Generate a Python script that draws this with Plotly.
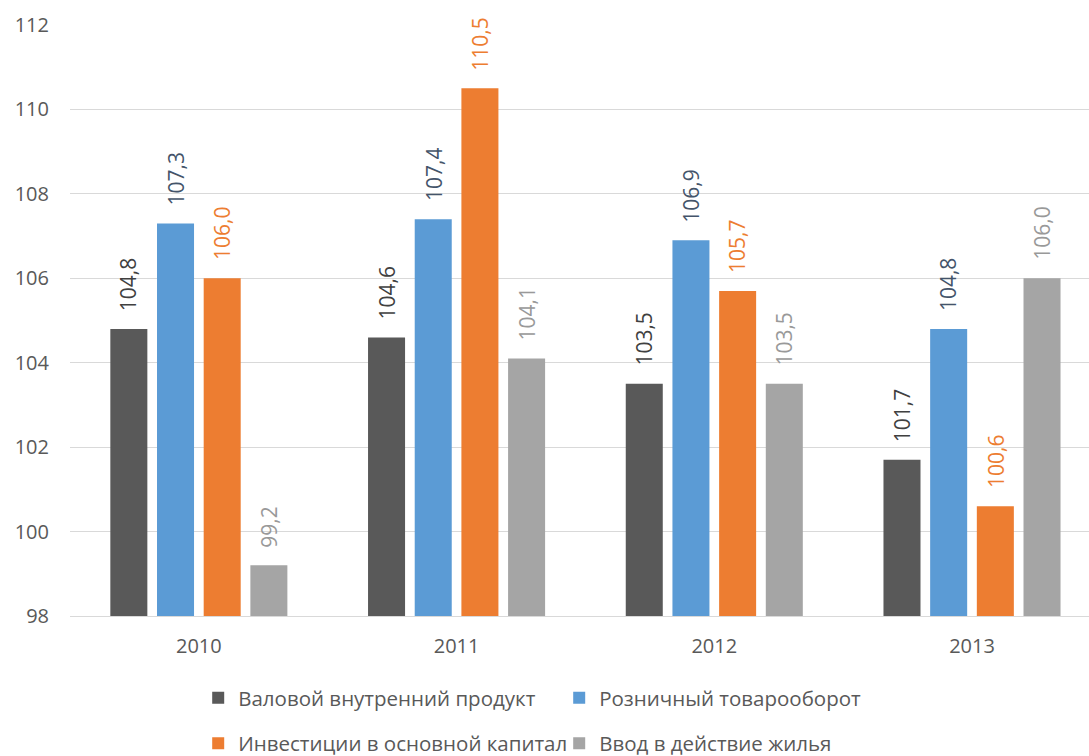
import plotly.graph_objects as go

years = ["2010", "2011", "2012", "2013"]
series_names = [
    "Валовой внутренний продукт",
    "Розничный товарооборот",
    "Инвестиции в основной капитал",
    "Ввод в действие жилья",
]
gdp = [104.8, 104.6, 103.5, 101.7]
retail = [107.3, 107.4, 106.9, 104.8]
investment = [106.0, 110.5, 105.7, 100.6]
housing = [99.2, 104.1, 103.5, 106.0]

bar_colors = ["#595959", "#5B9BD5", "#ED7D31", "#A5A5A5"]
label_colors = ["#404040", "#44546A", "#ED7D31", "#999999"]
legend_ids = ["legend", "legend", "legend2", "legend2"]

FONT = "Open Sans"
BARGAP = 0.2755
GROUPGAP = 0.207

fig = go.Figure()
all_series = [gdp, retail, investment, housing]
for i, (name, vals) in enumerate(zip(series_names, all_series)):
    fig.add_trace(go.Bar(
        x=years, y=vals, name=name,
        marker=dict(color=bar_colors[i], line=dict(width=0)),
        legend=legend_ids[i],
        hoverinfo="skip",
    ))

# value labels above each bar, rotated to read upwards
n = len(all_series)
slot = (1 - BARGAP) / n
for i, vals in enumerate(all_series):
    for j, v in enumerate(vals):
        fig.add_annotation(
            x=j + (i - (n - 1) / 2) * slot, y=v,
            xref="x", yref="y",
            text=f"{v:.1f}".replace(".", ","),
            textangle=-90, showarrow=False,
            xanchor="center", yanchor="bottom", yshift=16,
            font=dict(family=FONT, size=21, color=label_colors[i]),
        )

legend_common = dict(
    orientation="h", xref="container", yref="container",
    xanchor="left", yanchor="middle",
    font=dict(family=FONT, size=20.5, color="#595959"),
    entrywidth=316, bgcolor="rgba(0,0,0,0)", itemclick=False,
)

fig.update_layout(
    width=1089, height=756,
    margin=dict(l=70, r=0, t=25, b=140),
    paper_bgcolor="white", plot_bgcolor="white",
    barmode="group", bargap=BARGAP, bargroupgap=GROUPGAP,
    font=dict(family=FONT, color="#595959"),
    showlegend=True,
    legend=dict(x=0.182, y=0.0767, **legend_common),
    legend2=dict(x=0.182, y=0.0165, **legend_common),
    xaxis=dict(
        type="category", range=[-0.5, 3.454],
        showgrid=False, showline=True, linecolor="#D9D9D9", linewidth=1,
        ticks="", tickfont=dict(family=FONT, size=20, color="#595959"),
        ticklabelstandoff=12,
    ),
    yaxis=dict(
        range=[98, 112], dtick=2, tick0=98,
        showgrid=True, gridcolor="#D9D9D9", gridwidth=1,
        zeroline=False, showline=False, ticks="",
        tickfont=dict(family=FONT, size=20, color="#595959"),
        ticklabelstandoff=20,
    ),
)

fig.write_html("out.html", config={"displayModeBar": False})
